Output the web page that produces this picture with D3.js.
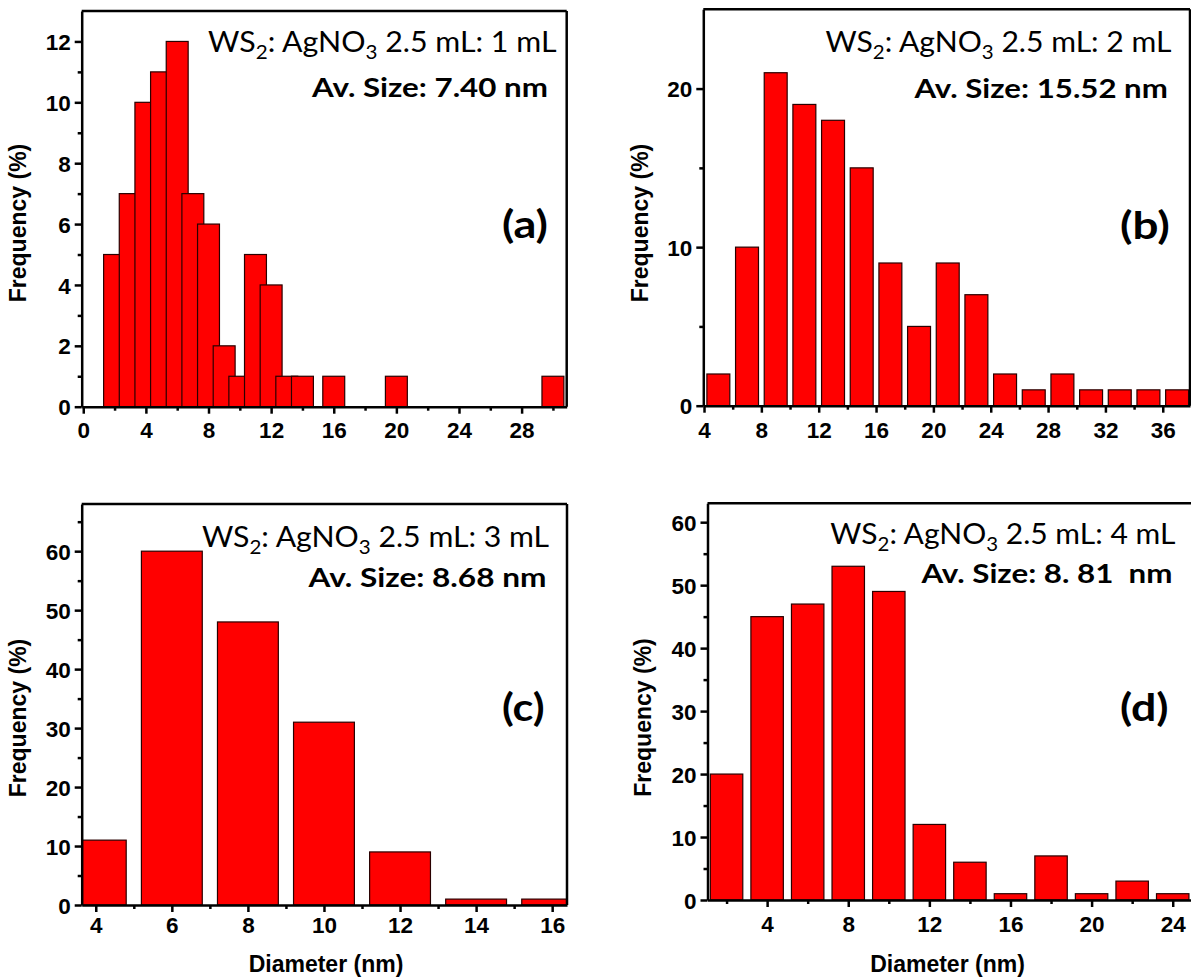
<!DOCTYPE html>
<html>
<head>
<meta charset="utf-8">
<script src="https://cdn.jsdelivr.net/npm/d3@7/dist/d3.min.js"></script>
<style>
  html, body { margin: 0; padding: 0; background: #fff; }
  svg { display: block; }
  .ann { white-space: pre; }
</style>
</head>
<body>
<svg id="chart" width="1191" height="979"></svg>
<script>
// ---------------- data ----------------
const diamA = [2, 3, 4, 5, 6, 7, 8, 9, 10, 11, 12, 13, 14, 16, 20, 30];
const freqA = [5, 7, 10, 11, 12, 7, 6, 2, 1, 5, 4, 1, 1, 1, 1, 1];

const diamB = [5, 7, 9, 11, 13, 15, 17, 19, 21, 23, 25, 27, 29, 31, 33, 35, 37];
const freqB = [2, 10, 21, 19, 18, 15, 9, 5, 9, 7, 2, 1, 2, 1, 1, 1, 1];

const diamC = [4, 6, 8, 10, 12, 14, 16];
const freqC = [11, 60, 48, 31, 9, 1, 1];

const diamD = [2, 4, 6, 8, 10, 12, 14, 16, 18, 20, 22, 24];
const freqD = [20, 45, 47, 53, 49, 12, 6, 1, 7, 1, 3, 1];

const xTicksA = [0, 4, 8, 12, 16, 20, 24, 28];
const xMinorA = [2, 6, 10, 14, 18, 22, 26, 30];
const yTicksA = [0, 2, 4, 6, 8, 10, 12];
const yMinorA = [1, 3, 5, 7, 9, 11];

const xTicksB = [4, 8, 12, 16, 20, 24, 28, 32, 36];
const xMinorB = [6, 10, 14, 18, 22, 26, 30, 34];
const yTicksB = [0, 10, 20];
const yMinorB = [5, 15];

const xTicksC = [4, 6, 8, 10, 12, 14, 16];
const xMinorC = [5, 7, 9, 11, 13, 15];
const yTicksC = [0, 10, 20, 30, 40, 50, 60];
const yMinorC = [5, 15, 25, 35, 45, 55, 65];

const xTicksD = [4, 8, 12, 16, 20, 24];
const xMinorD = [2, 6, 10, 14, 18, 22];
const yTicksD = [0, 10, 20, 30, 40, 50, 60];
const yMinorD = [5, 15, 25, 35, 45, 55];

const ratioLabels = ["1 mL", "2 mL", "3 mL", "4 mL"];
const avSizeLabels = ["Av. Size: 7.40 nm", "Av. Size: 15.52 nm", "Av. Size: 8.68 nm", "Av. Size: 8. 81  nm"];
const panelTags = ["(a)", "(b)", "(c)", "(d)"];
const xTitle = "Diameter (nm)";
const yTitle = "Frequency (%)";

// ---------------- layout ----------------
const panels = [
  { diam: diamA, freq: freqA, xT: xTicksA, xM: xMinorA, yT: yTicksA, yM: yMinorA,
    xDom: [-0.1, 30.88], yDom: [0, 13], L: 81.7, R: 566.7, T: 11, B: 406.7, barW: 1.4,
    xLabY: 31.5, showXTitle: false, yTitleX: 26, yTitleY: 223,
    l1: [208, 556.5, 51.7], l2: [312, 548, 96.7], tag: [502, 548, 237.5] },
  { diam: diamB, freq: freqB, xT: xTicksB, xM: xMinorB, yT: yTicksB, yM: yMinorB,
    xDom: [3.95, 37.9], yDom: [0, 25], L: 703.3, R: 1190, T: 9.3, B: 405.7, barW: 1.6,
    xLabY: 32.5, showXTitle: false, yTitleX: 648, yTitleY: 223,
    l1: [825.4, 1171.7, 51.7], l2: [914.5, 1167.9, 98.3], tag: [1120, 1169.8, 239] },
  { diam: diamC, freq: freqC, xT: xTicksC, xM: xMinorC, yT: yTicksC, yM: yMinorC,
    xDom: [3.63, 16.39], yDom: [0, 68], L: 81.7, R: 567, T: 504, B: 905, barW: 1.6,
    xLabY: 28.3, showXTitle: true, xTitleX: 326, xTitleY: 972, yTitleX: 26, yTitleY: 718,
    l1: [201.9, 549.4, 546.7], l2: [308.6, 546.5, 587.3], tag: [502, 544.6, 720.7] },
  { diam: diamD, freq: freqD, xT: xTicksD, xM: xMinorD, yT: yTicksD, yM: yMinorD,
    xDom: [1.06, 25], yDom: [0, 63], L: 707.5, R: 1193, T: 503.3, B: 900, barW: 1.6,
    xLabY: 31.7, showXTitle: true, xTitleX: 947.5, xTitleY: 972, yTitleX: 651, yTitleY: 717.5,
    l1: [830.3, 1175.5, 544], l2: [921.4, 1172.5, 582.7], tag: [1120, 1168.6, 720.7] }
];

const svg = d3.select("#chart");
svg.append("rect").attr("width", 1191).attr("height", 979).attr("fill", "#fff");
const defs = svg.append("defs");

const AXW = 2.5;
const TICKFS = 22.5;
const tickFont = "'Liberation Sans', Arial, sans-serif";
const annFont = "Lato, 'Open Sans', sans-serif";

function fitLine(g, parts, box, size, weight) {
  const t = g.append("text").attr("class", "ann")
    .attr("font-family", annFont).attr("font-size", size).attr("font-weight", weight)
    .attr("fill", "#000");
  let sub = false;
  parts.forEach(p => {
    const ts = t.append("tspan").text(p[0]);
    if (p[1] && !sub) { ts.attr("dy", size * 0.25).attr("font-size", size * 0.68); sub = true; }
    else if (!p[1] && sub) { ts.attr("dy", -size * 0.25); sub = false; }
  });
  const w = t.node().getComputedTextLength();
  const sx = (box[1] - box[0]) / w;
  t.attr("transform", `translate(${box[0]},${box[2]}) scale(${sx},1)`);
}

panels.forEach((p, i) => {
  const g = svg.append("g");
  const x = d3.scaleLinear().domain(p.xDom).range([p.L, p.R]);
  const y = d3.scaleLinear().domain(p.yDom).range([p.B, p.T]);

  const clipId = "clip" + i;
  defs.append("clipPath").attr("id", clipId).append("rect")
    .attr("x", p.L).attr("y", p.T).attr("width", p.R - p.L).attr("height", p.B - p.T);

  // bars
  const data = p.diam.map((d, k) => ({ d, f: p.freq[k] }));
  g.append("g").attr("clip-path", `url(#${clipId})`)
    .selectAll("rect").data(data).join("rect")
    .attr("x", d => x(d.d - p.barW / 2))
    .attr("width", d => x(d.d + p.barW / 2) - x(d.d - p.barW / 2))
    .attr("y", d => y(d.f))
    .attr("height", d => y(0) - y(d.f))
    .attr("fill", "#ff0000")
    .attr("stroke", "#2a0000")
    .attr("stroke-width", 1.2);

  // frame top/right
  g.append("line").attr("x1", p.L).attr("x2", p.R).attr("y1", p.T).attr("y2", p.T)
    .attr("stroke", "#000").attr("stroke-width", AXW);
  g.append("line").attr("x1", p.R).attr("x2", p.R).attr("y1", p.T).attr("y2", p.B)
    .attr("stroke", "#000").attr("stroke-width", AXW);

  // minor ticks
  g.append("g").attr("transform", `translate(0,${p.B})`)
    .call(d3.axisBottom(x).tickValues(p.xM).tickSize(4).tickFormat(""))
    .call(s => s.select(".domain").remove())
    .selectAll("line").attr("stroke-width", AXW);
  g.append("g").attr("transform", `translate(${p.L},0)`)
    .call(d3.axisLeft(y).tickValues(p.yM).tickSize(4).tickFormat(""))
    .call(s => s.select(".domain").remove())
    .selectAll("line").attr("stroke-width", AXW);

  // major axes
  const xa = g.append("g").attr("transform", `translate(0,${p.B})`)
    .call(d3.axisBottom(x).tickValues(p.xT).tickSize(7).tickSizeOuter(0).tickFormat(d3.format("d")));
  xa.select(".domain").attr("stroke-width", AXW);
  xa.selectAll("line").attr("stroke-width", AXW);
  xa.selectAll("text").attr("y", p.xLabY).attr("dy", 0)
    .attr("font-family", tickFont).attr("font-size", TICKFS).attr("font-weight", "bold").attr("fill", "#000");

  const ya = g.append("g").attr("transform", `translate(${p.L},0)`)
    .call(d3.axisLeft(y).tickValues(p.yT).tickSize(7).tickSizeOuter(0).tickPadding(4).tickFormat(d3.format("d")));
  ya.select(".domain").attr("stroke-width", AXW);
  ya.selectAll("line").attr("stroke-width", AXW);
  ya.selectAll("text").attr("dy", "0.36em")
    .attr("font-family", tickFont).attr("font-size", TICKFS).attr("font-weight", "bold").attr("fill", "#000");

  // axis titles
  g.append("text").attr("transform", `translate(${p.yTitleX},${p.yTitleY}) rotate(-90)`)
    .attr("text-anchor", "middle").attr("font-family", tickFont).attr("font-size", 23)
    .attr("font-weight", "bold").text(yTitle);
  if (p.showXTitle) {
    g.append("text").attr("x", p.xTitleX).attr("y", p.xTitleY)
      .attr("text-anchor", "middle").attr("font-family", tickFont).attr("font-size", 23)
      .attr("font-weight", "bold").text(xTitle);
  }

  // annotations
  fitLine(g, [["WS", 0], ["2", 1], [": AgNO", 0], ["3", 1], [" 2.5 mL: " + ratioLabels[i], 0]], p.l1, 28, 400);
  fitLine(g, [[avSizeLabels[i], 0]], p.l2, 27, 700);
  fitLine(g, [[panelTags[i], 0]], p.tag, 38, 700);
});
</script>
</body>
</html>
